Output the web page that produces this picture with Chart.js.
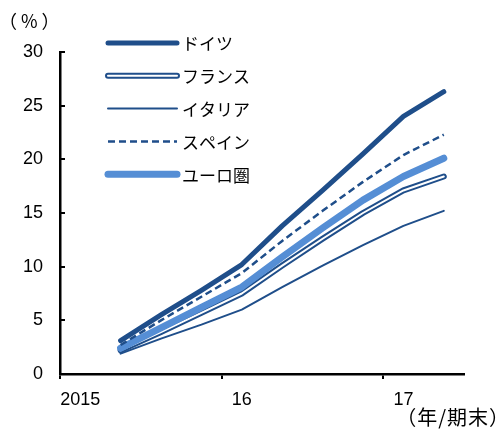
<!DOCTYPE html>
<html><head><meta charset="utf-8">
<script src="https://cdn.jsdelivr.net/npm/chart.js@4.4.1/dist/chart.umd.min.js"></script>
<style>
html,body{margin:0;padding:0;background:#fff;}
#wrap{position:relative;width:499px;height:432px;}
canvas{position:absolute;left:0;top:0;}
.lbl{position:absolute;font-family:"Noto Sans CJK JP",sans-serif;color:#000;white-space:nowrap;line-height:1;}
</style>
</head><body>
<div id="wrap">
<canvas id="c" width="499" height="432"></canvas>
<div class="lbl" style="left:-1px;top:11px;font-size:18px;letter-spacing:4px;">（%）</div>
<div class="lbl" style="right:-11px;top:407px;font-size:20px;letter-spacing:1px;">（年/期末）</div>
</div>
<script>
const categories = ['2015Q1','2015Q2','2015Q3','2015Q4','2016Q1','2016Q2','2016Q3','2016Q4','2017Q1','2017Q2'];
const tickLabels = ['2015','','','','16','','','','17',''];
const seriesNames = ['ドイツ','フランス','イタリア','スペイン','ユーロ圏'];
const germany = [null, 3.1, 5.5, 7.8, 10.2, 13.8, 17.1, 20.5, 24.0, 26.3];
const france  = [null, 2.2, 3.9, 5.7, 7.5, 10.1, 12.6, 15.0, 17.1, 18.4];
const italy   = [null, 1.9, 3.3, 4.6, 6.0, 8.1, 10.1, 12.0, 13.8, 15.2];
const spain   = [null, 2.7, 5.0, 7.2, 9.4, 12.4, 15.2, 17.9, 20.4, 22.3];
const euro    = [null, 2.4, 4.3, 6.2, 8.1, 10.9, 13.6, 16.2, 18.4, 20.1];
const yTicks  = [0, 5, 10, 15, 20, 25, 30];

const DARK = '#1F4E8A';
const LIGHT = '#558ED5';
const base = {fill:false, pointRadius:0, borderCapStyle:'round', borderJoinStyle:'round', tension:0, spanGaps:false};

const datasets = [
  Object.assign({label:seriesNames[0], data:germany, borderColor:DARK, borderWidth:5, order:1}, base),
  Object.assign({label:seriesNames[1], data:france, borderColor:DARK, borderWidth:6, order:5}, base),
  Object.assign({label:seriesNames[1]+'_inner', data:france, borderColor:'#fff', borderWidth:2, order:4}, base),
  Object.assign({label:seriesNames[2], data:italy, borderColor:DARK, borderWidth:2, order:6}, base),
  Object.assign({label:seriesNames[3], data:spain, borderColor:DARK, borderWidth:2.5, borderDash:[7,4], order:2}, base),
  Object.assign({label:seriesNames[4], data:euro, borderColor:LIGHT, borderWidth:7, order:3}, base)
];
datasets[4].borderCapStyle = 'butt';

const legendItems = [
  {name:seriesNames[0], layers:[{c:DARK,w:5}]},
  {name:seriesNames[1], layers:[{c:DARK,w:6},{c:'#fff',w:2}]},
  {name:seriesNames[2], layers:[{c:DARK,w:2}]},
  {name:seriesNames[3], layers:[{c:DARK,w:2.5,dash:[7,4],cap:'butt'}]},
  {name:seriesNames[4], layers:[{c:LIGHT,w:7}]}
];

const customDraw = {
  id:'customDraw',
  afterDraw(chart){
    const ctx = chart.ctx;
    const y = chart.scales.y;
    const left = chart.chartArea.left;
    ctx.save();
    ctx.strokeStyle = '#000';
    ctx.lineWidth = 2;
    yTicks.forEach(v => {
      if (v === 0) return;
      const py = Math.round(y.getPixelForValue(v));
      ctx.beginPath();
      ctx.moveTo(left, py);
      ctx.lineTo(left + 5, py);
      ctx.stroke();
    });
    const lx0 = 108, lx1 = 177, ly0 = 43, step = 32.8;
    legendItems.forEach((it, i) => {
      const ly = ly0 + i * step;
      it.layers.forEach(L => {
        ctx.beginPath();
        ctx.strokeStyle = L.c;
        ctx.lineWidth = L.w;
        ctx.lineCap = L.cap || 'round';
        ctx.setLineDash(L.dash || []);
        ctx.moveTo(lx0, ly);
        ctx.lineTo(lx1, ly);
        ctx.stroke();
      });
      ctx.setLineDash([]);
      ctx.fillStyle = '#000';
      ctx.font = '17px "Noto Sans CJK JP", sans-serif';
      ctx.textBaseline = 'middle';
      ctx.textAlign = 'left';
      ctx.fillText(it.name, 182, ly + 1);
    });
    ctx.restore();
  }
};

new Chart(document.getElementById('c'), {
  type:'line',
  data:{labels:categories, datasets:datasets},
  options:{
    responsive:false,
    animation:false,
    devicePixelRatio:1,
    layout:{padding:{top:52, right:35, bottom:0, left:0}},
    plugins:{legend:{display:false}, tooltip:{enabled:false}},
    scales:{
      x:{
        type:'category',
        offset:true,
        grid:{offset:true, drawOnChartArea:false, tickLength:5, lineWidth:2,
          color:(c)=> (tickLabels[c.index] ? '#000' : 'rgba(0,0,0,0)')},
        border:{color:'#000', width:2.5},
        ticks:{autoSkip:false, maxRotation:0, minRotation:0, padding:10, color:'#000',
          font:{family:'"Liberation Sans", Arial, sans-serif', size:18},
          callback:(v,i)=>tickLabels[i]},
        afterFit:(s)=>{ s.height = 58; }
      },
      y:{
        min:0, max:30,
        afterBuildTicks:(s)=>{ s.ticks = yTicks.map(v=>({value:v})); },
        grid:{drawOnChartArea:false, drawTicks:false},
        border:{color:'#000', width:2.5},
        ticks:{padding:17, color:'#000', font:{family:'"Liberation Sans", Arial, sans-serif', size:18}},
        afterFit:(s)=>{ s.width = 60; }
      }
    }
  },
  plugins:[customDraw]
});
</script>
</body></html>
